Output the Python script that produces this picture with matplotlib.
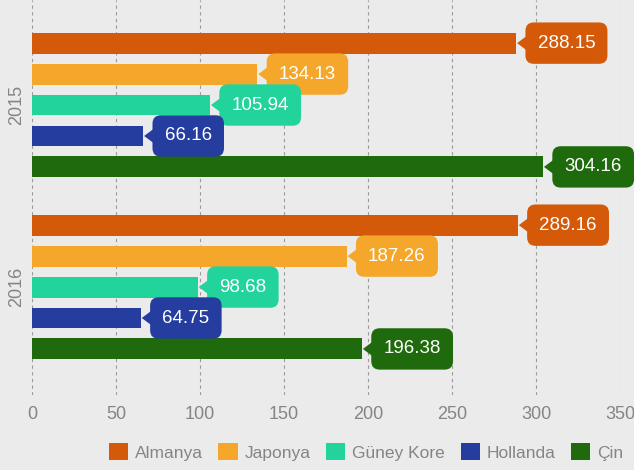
import matplotlib.pyplot as plt
import matplotlib.transforms as mtransforms
from matplotlib.patches import Polygon, Patch
import numpy as np

plt.rcParams['font.family'] = ['Liberation Sans', 'DejaVu Sans']

years = ['2015', '2016']
countries = ['Almanya', 'Japonya', 'Güney Kore', 'Hollanda', 'Çin']
values = {
    'Almanya': [288.15, 289.16],
    'Japonya': [134.13, 187.26],
    'Güney Kore': [105.94, 98.68],
    'Hollanda': [66.16, 64.75],
    'Çin': [304.16, 196.38],
}
colors = ['#d45a0a', '#f4a72a', '#22d49c', '#243d9e', '#1e6a0c']

bg = '#ebebeb'
fig = plt.figure(figsize=(6.34, 4.70), dpi=100, facecolor=bg)
ax = fig.add_axes([32 / 634, 75 / 470, 588 / 634, 395 / 470])
ax.set_facecolor(bg)

step = 0.170
h = 0.115
y0 = np.arange(len(years))
for i, (c, col) in enumerate(zip(countries, colors)):
    ys = y0 + (i - 2) * step
    ax.barh(ys, values[c], height=h, color=col, label=c, zorder=3)
    for v, y in zip(values[c], ys):
        # pointer triangle, drawn in inches from the bar end
        tr = fig.dpi_scale_trans + mtransforms.ScaledTranslation(v, y, ax.transData)
        ax.add_patch(Polygon([(0.01, 0), (0.13, 0.09), (0.13, -0.09)], closed=True,
                             transform=tr, fc=col, ec='none', zorder=4, clip_on=False))
        ax.annotate(f'{v:.2f}', xy=(v, y), xytext=(15.5, 0), textcoords='offset points',
                    ha='left', va='center', color='white', fontsize=13.5, zorder=5,
                    bbox=dict(boxstyle='round,pad=0.65,rounding_size=0.45', fc=col, ec='none'))

ax.set_xlim(0, 350)
ax.set_ylim(1.593, -0.577)
ax.set_xticks(range(0, 351, 50))
ax.set_yticks(y0)
ax.set_yticklabels(years, rotation=90, va='center')
ax.tick_params(axis='both', length=0, colors='#858585', labelsize=13)
ax.tick_params(axis='x', pad=8)
ax.tick_params(axis='y', pad=5)
ax.grid(axis='x', color='#9a9a9a', linestyle=(0, (3, 3)), linewidth=0.8, zorder=0)
for s in ax.spines.values():
    s.set_visible(False)

handles = [Patch(facecolor=col, label=c) for c, col in zip(countries, colors)]
fig.legend(handles=handles, loc='center', bbox_to_anchor=(366 / 634, 18 / 470), ncol=5,
           frameon=False, fontsize=12.5, labelcolor='#858585', handlelength=1.1,
           handleheight=1.1, handletextpad=0.4, columnspacing=0.9)

fig.savefig('out.png', dpi=100, facecolor=bg)
